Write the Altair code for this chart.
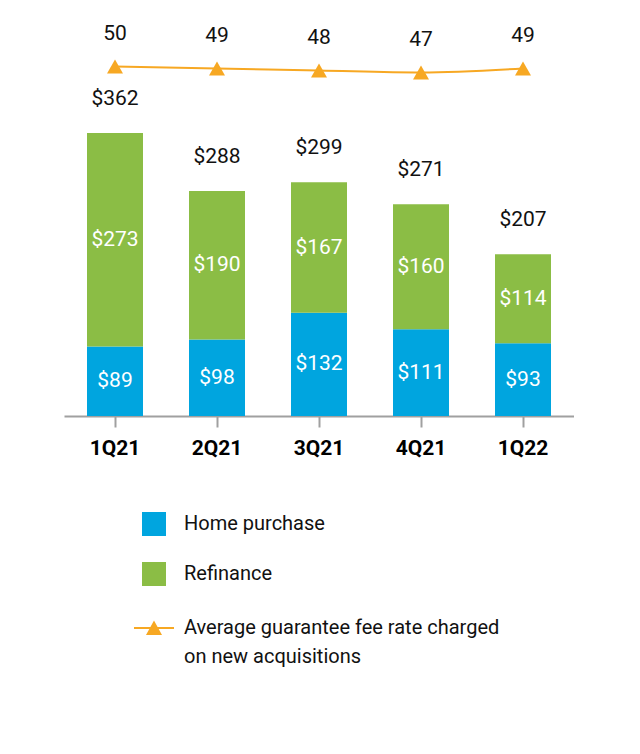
import altair as alt
import pandas as pd

quarters = ["1Q21", "2Q21", "3Q21", "4Q21", "1Q22"]
home_purchase = [89, 98, 132, 111, 93]
refinance = [273, 190, 167, 160, 114]
totals = [362, 288, 299, 271, 207]
fee_rate = [50, 49, 48, 47, 49]

series_names = ["Home purchase", "Refinance"]
line_name = "Average guarantee fee rate charged on new acquisitions"

BLUE = "#00A5DF"
GREEN = "#8BBD45"
ORANGE = "#F7A823"
FONT = "Roboto"

rows = []
for i, q in enumerate(quarters):
    rows.append({"q": q, "series": "Home purchase", "order": 0, "value": home_purchase[i],
                 "start": 0, "end": home_purchase[i], "label": f"${home_purchase[i]}"})
    rows.append({"q": q, "series": "Refinance", "order": 1, "value": refinance[i],
                 "start": home_purchase[i], "end": home_purchase[i] + refinance[i],
                 "label": f"${refinance[i]}"})
bars_df = pd.DataFrame(rows)
bars_df["mid"] = (bars_df["start"] + bars_df["end"]) / 2

tot_df = pd.DataFrame({"q": quarters, "total": totals, "label": [f"${t}" for t in totals]})
fee_df = pd.DataFrame({"q": quarters, "fee": fee_rate, "label": [str(f) for f in fee_rate],
                       "metric": [line_name] * len(quarters)})

x_enc = alt.X("q:N", sort=quarters, title=None,
              scale=alt.Scale(paddingInner=0.45, paddingOuter=0.225),
              axis=alt.Axis(labelFont=FONT, labelFontSize=21, labelFontWeight="bold",
                            labelColor="#000000", labelPadding=10, labelAngle=0,
                            domainColor="#A0A0A0", domainWidth=2,
                            tickColor="#A0A0A0", tickWidth=2, tickSize=11, grid=False))

ybar = alt.Scale(domain=[0, 522], nice=False, zero=True)

bars = alt.Chart(bars_df).mark_bar(size=56).encode(
    x=x_enc,
    y=alt.Y("start:Q", scale=ybar, axis=None),
    y2="end:Q",
    color=alt.Color("series:N",
                    scale=alt.Scale(domain=series_names, range=[BLUE, GREEN]),
                    legend=alt.Legend(title=None, orient="none", legendX=78, legendY=504,
                                      symbolType="square", symbolSize=576,
                                      symbolStrokeWidth=0, symbolOpacity=1,
                                      labelFont=FONT, labelFontSize=20, labelColor="#111111",
                                      labelOffset=18, rowPadding=26, padding=0,
                                      labelLimit=500)),
)

seg_text = alt.Chart(bars_df).mark_text(font=FONT, fontSize=21, color="white").encode(
    x=alt.X("q:N", sort=quarters),
    y=alt.Y("mid:Q", scale=ybar, axis=None),
    text="label:N",
)

tot_text = alt.Chart(tot_df).mark_text(font=FONT, fontSize=21, color="#111111", dy=-34).encode(
    x=alt.X("q:N", sort=quarters),
    y=alt.Y("total:Q", scale=ybar, axis=None),
    text="label:N",
)

yline = alt.Scale(domain=[-124.75, 79.25], nice=False, zero=False)

line = alt.Chart(fee_df).mark_line(color=ORANGE, strokeWidth=2, interpolate="monotone").encode(
    x=alt.X("q:N", sort=quarters),
    y=alt.Y("fee:Q", scale=yline, axis=None),
)

legend_path = ("M-1.667,-0.09L1.667,-0.09L1.667,0.09L-1.667,0.09Z "
               "M-0.667,0.58L0,-0.62L0.667,0.58Z")

pts = alt.Chart(fee_df).mark_point(shape="triangle-up", filled=True, size=256,
                                   color=ORANGE, opacity=1).encode(
    x=alt.X("q:N", sort=quarters),
    y=alt.Y("fee:Q", scale=yline, axis=None),
)

legend_layer = alt.Chart(fee_df.head(1)).mark_point(filled=True, size=1, opacity=0,
                                                   color=ORANGE).encode(
    x=alt.X("q:N", sort=quarters),
    y=alt.Y("fee:Q", scale=yline, axis=None),
    shape=alt.Shape("metric:N", scale=alt.Scale(domain=[line_name], range=[legend_path]),
                    legend=alt.Legend(title=None, orient="none", legendX=78, legendY=608,
                                      symbolSize=576, symbolFillColor=ORANGE,
                                      symbolStrokeColor=ORANGE, symbolStrokeWidth=0,
                                      symbolOpacity=1,
                                      labelFont=FONT, labelFontSize=20, labelColor="#111111",
                                      labelOffset=18, padding=0, labelLimit=500,
                                      labelExpr="['Average guarantee fee rate charged', 'on new acquisitions']")),
)

fee_text = alt.Chart(fee_df).mark_text(font=FONT, fontSize=21, color="#111111", dy=-33).encode(
    x=alt.X("q:N", sort=quarters),
    y=alt.Y("fee:Q", scale=yline, axis=None),
    text="label:N",
)

bar_part = alt.layer(bars, seg_text, tot_text)
line_part = alt.layer(line, pts, legend_layer, fee_text)

chart = alt.layer(bar_part, line_part).resolve_scale(y="independent").properties(
    width=510, height=408,
    padding={"left": 56, "top": 0, "right": 0, "bottom": 0},
    background="white",
).configure(
    view={"stroke": None},
    style={"guide-label": {"lineHeight": 29}},
)

chart.save("out.html", embed_options={"renderer": "svg", "actions": False})
